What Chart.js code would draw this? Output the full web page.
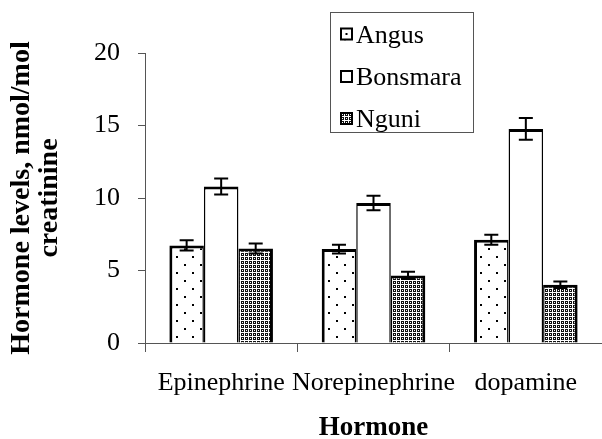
<!DOCTYPE html>
<html><head><meta charset="utf-8">
<script src="https://cdn.jsdelivr.net/npm/chart.js@4"></script>
<style>html,body{margin:0;padding:0;background:#fff;} canvas{display:block;}</style>
</head><body>
<canvas id="c" width="602" height="439"></canvas>
<script>
const categories = ['Epinephrine', 'Norepinephrine', 'dopamine'];
const seriesNames = ['Angus', 'Bonsmara', 'Nguni'];
const angus = [6.73, 6.48, 7.12];
const angusErr = [0.35, 0.30, 0.35];
const bonsmara = [10.8, 9.66, 14.76];
const bonsmaraErr = [0.55, 0.50, 0.75];
const nguni = [6.52, 4.66, 4.02];
const nguniErr = [0.35, 0.25, 0.22];
const yTicks = [0, 5, 10, 15, 20];
const xTitle = 'Hormone';
const yTitle = ['Hormone levels, nmol/mol', 'creatinine'];

const FONT = 'Liberation Serif';
const ctx0 = document.getElementById('c').getContext('2d');

function dotPattern() {
  const c = document.createElement('canvas'); c.width = 16; c.height = 16;
  const g = c.getContext('2d');
  g.fillStyle = '#fff'; g.fillRect(0, 0, 16, 16);
  g.fillStyle = '#000'; g.fillRect(0, 0, 2, 2); g.fillRect(8, 8, 2, 2);
  return ctx0.createPattern(c, 'repeat');
}
function hatchPattern() {
  const c = document.createElement('canvas'); c.width = 4; c.height = 4;
  const g = c.getContext('2d');
  g.fillStyle = '#111'; g.fillRect(0, 0, 4, 4);
  g.fillStyle = '#fff';
  g.fillRect(0, 0, 4, 1); g.fillRect(0, 0, 1, 4); g.fillRect(2, 2, 1, 1);
  return ctx0.createPattern(c, 'repeat');
}

const fills = [dotPattern(), '#ffffff', hatchPattern()];
const values = [angus, bonsmara, nguni];
const errs = [angusErr, bonsmaraErr, nguniErr];
const borders = [
  {left: 3, right: 1.5, top: 3, bottom: 0},
  {left: 1.5, right: 1.5, top: 3, bottom: 0},
  {left: 1.5, right: 3, top: 3, bottom: 0}
];

const errorBars = {
  id: 'errorBars',
  afterDatasetsDraw(chart) {
    const ctx = chart.ctx, ys = chart.scales.y;
    chart.data.datasets.forEach((ds, i) => {
      chart.getDatasetMeta(i).data.forEach((bar, j) => {
        const v = ds.data[j], e = ds.errors[j], x = bar.x;
        const y1 = ys.getPixelForValue(v + e), y2 = ys.getPixelForValue(v - e);
        ctx.save();
        ctx.strokeStyle = '#000'; ctx.lineWidth = 2;
        ctx.beginPath();
        ctx.moveTo(x, y1); ctx.lineTo(x, y2);
        ctx.moveTo(x - 7, y1); ctx.lineTo(x + 7, y1);
        ctx.moveTo(x - 7, y2); ctx.lineTo(x + 7, y2);
        ctx.stroke();
        ctx.restore();
      });
    });
  }
};

const boxLegend = {
  id: 'boxLegend',
  afterDraw(chart) {
    const ctx = chart.ctx;
    ctx.save();
    ctx.fillStyle = '#fff';
    ctx.fillRect(330, 12, 144, 121);
    ctx.strokeStyle = '#555'; ctx.lineWidth = 1;
    ctx.strokeRect(330.5, 12.5, 143, 120);
    const centers = [34, 76.5, 118.5];
    chart.data.datasets.forEach((ds, i) => {
      const cy = centers[i];
      ctx.fillStyle = ds.backgroundColor;
      ctx.fillRect(340, cy - 6.5, 13, 13);
      if (i === 0) { ctx.fillStyle = '#fff'; ctx.fillRect(340, cy - 6.5, 13, 13); ctx.fillStyle = '#000'; ctx.fillRect(345.5, cy - 1, 2, 2); }
      ctx.strokeStyle = '#000'; ctx.lineWidth = 2;
      ctx.strokeRect(341, cy - 5.5, 11, 11);
      ctx.fillStyle = '#000';
      ctx.font = '26px "' + FONT + '"';
      ctx.textBaseline = 'middle'; ctx.textAlign = 'left';
      ctx.fillText(ds.label, 356, cy + 2);
    });
    ctx.restore();
  }
};

new Chart(ctx0, {
  type: 'bar',
  data: {
    labels: categories,
    datasets: seriesNames.map((n, i) => ({
      label: n,
      data: values[i],
      errors: errs[i],
      backgroundColor: fills[i],
      borderColor: '#000',
      borderWidth: borders[i],
      borderSkipped: 'start',
      categoryPercentage: 0.68,
      barPercentage: 1.0,
      inflateAmount: 0
    }))
  },
  options: {
    responsive: false,
    animation: false,
    devicePixelRatio: 1,
    layout: {padding: {top: 53, right: 0, left: 0, bottom: 0}},
    plugins: {legend: {display: false}, tooltip: {enabled: false}},
    scales: {
      x: {
        grid: {display: true, drawOnChartArea: false, offset: true, tickLength: 9, color: '#555', lineWidth: 1},
        border: {color: '#555', width: 1},
        ticks: {font: {family: FONT, size: 26}, color: '#000', maxRotation: 0, minRotation: 0, autoSkip: false, padding: 16},
        title: {display: true, text: xTitle, color: '#000', font: {family: FONT, size: 27, weight: 'bold', lineHeight: 0.78}, padding: 0},
        afterFit(s) { s.height = 96; }
      },
      y: {
        min: yTicks[0], max: yTicks[yTicks.length - 1],
        ticks: {stepSize: yTicks[1] - yTicks[0], font: {family: FONT, size: 26}, color: '#000', padding: 18},
        grid: {display: true, drawOnChartArea: false, tickLength: 7, color: '#555', lineWidth: 1},
        border: {color: '#555', width: 1},
        title: {display: true, text: yTitle, color: '#000', font: {family: FONT, size: 28, weight: 'bold', lineHeight: 1.0}, padding: {top: 8, bottom: 0}},
        afterFit(s) { s.width = 145; }
      }
    }
  },
  plugins: [errorBars, boxLegend]
});
</script>
</body></html>
